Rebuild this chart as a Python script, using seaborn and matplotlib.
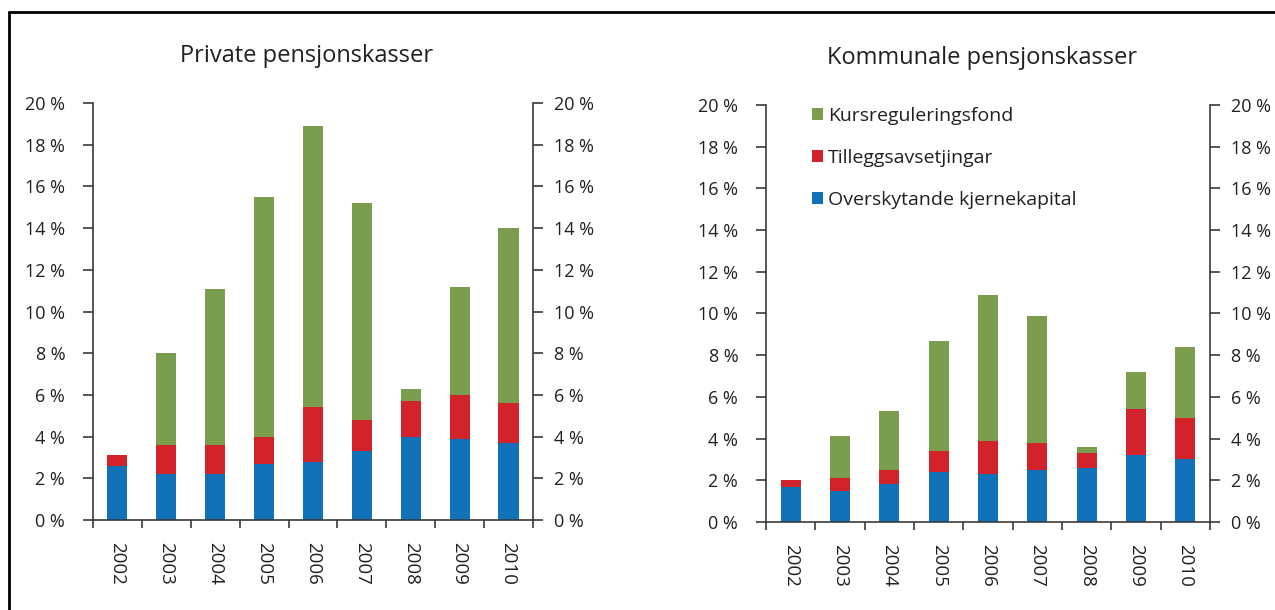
import numpy as np
import pandas as pd
import matplotlib
matplotlib.use("Agg")
import matplotlib.pyplot as plt
from matplotlib.lines import Line2D
from matplotlib.patches import Patch
import seaborn as sns

years = ['2002', '2003', '2004', '2005', '2006', '2007', '2008', '2009', '2010']

# Private pensjonskasser (prosent)
priv_kjerne = [2.6, 2.2, 2.2, 2.7, 2.8, 3.3, 4.0, 3.9, 3.7]
priv_tillegg = [0.5, 1.4, 1.4, 1.3, 2.6, 1.5, 1.7, 2.1, 1.9]
priv_kursreg = [0.0, 4.4, 7.5, 11.5, 13.5, 10.4, 0.6, 5.2, 8.4]

# Kommunale pensjonskasser (prosent)
komm_kjerne = [1.7, 1.5, 1.8, 2.4, 2.3, 2.5, 2.6, 3.2, 3.0]
komm_tillegg = [0.3, 0.6, 0.7, 1.0, 1.6, 1.3, 0.7, 2.2, 2.0]
komm_kursreg = [0.0, 2.0, 2.8, 5.3, 7.0, 6.1, 0.3, 1.8, 3.4]

series_names = ['Kursreguleringsfond', 'Tilleggsavsetjingar', 'Overskytande kjernekapital']
yticks = [0, 2, 4, 6, 8, 10, 12, 14, 16, 18, 20]
ytick_labels = [f'{v} %' for v in yticks]

blue = '#1172ba'
red = '#d2232a'
green = '#7a9e4e'
txt = '#231f20'
spine_col = '#3a3a3a'

sns.set_style('ticks')
plt.rcParams['font.family'] = ['Open Sans', 'DejaVu Sans']

fig = plt.figure(figsize=(12.75, 6.1), dpi=100)
ax1 = fig.add_axes([0.0729, 0.1475, 0.3451, 0.6836])
ax2 = fig.add_axes([0.6008, 0.1443, 0.3482, 0.6836])


def draw(ax, kjerne, tillegg, kursreg):
    df = pd.DataFrame({'aar': years, 'kjerne': kjerne, 'tillegg': tillegg, 'kursreg': kursreg})
    df['lag2'] = df['kjerne'] + df['tillegg']
    df['lag3'] = df['lag2'] + df['kursreg']
    for col, c in [('lag3', green), ('lag2', red), ('kjerne', blue)]:
        sns.barplot(data=df, x='aar', y=col, color=c, saturation=1, width=0.41,
                    errorbar=None, ax=ax, linewidth=0)
    ax.set_xlim(-0.5, 8.5)
    ax.set_ylim(0, 20)
    ax.set_xlabel('')
    ax.set_ylabel('')
    ax.set_xticks(range(len(years)), years, rotation=-90, fontsize=13.5, color=txt)
    ax.set_xticks(np.arange(-0.5, len(years), 1), minor=True)
    ax.tick_params(axis='x', which='major', length=0, pad=16)
    ax.tick_params(axis='x', which='minor', length=6, width=1.2, color=spine_col, direction='out')
    ax.set_yticks(yticks, ytick_labels, fontsize=13, color=txt)
    ax.tick_params(axis='y', left=True, right=False, labelleft=True, labelright=False,
                   length=7, width=1.2, color=spine_col, direction='out', pad=13)
    for s in ['left', 'right', 'bottom']:
        ax.spines[s].set_visible(True)
        ax.spines[s].set_color(spine_col)
        ax.spines[s].set_linewidth(1.2)
    ax.spines['top'].set_visible(False)

    # høgre akse med same skala
    axr = ax.twinx()
    axr.set_ylim(0, 20)
    axr.set_yticks(yticks, ytick_labels, fontsize=13, color=txt)
    axr.tick_params(axis='y', right=True, labelright=True, length=7, width=1.2,
                    color=spine_col, direction='out', pad=8)
    for s in axr.spines.values():
        s.set_visible(False)
    axr.grid(False)


draw(ax1, priv_kjerne, priv_tillegg, priv_kursreg)
draw(ax2, komm_kjerne, komm_tillegg, komm_kursreg)

fig.text(307 / 1275, 1 - 56 / 610, 'Private pensjonskasser', ha='center', va='center',
         fontsize=17, color=txt)
fig.text(982 / 1275, 1 - 58 / 610, 'Kommunale pensjonskasser', ha='center', va='center',
         fontsize=17, color=txt)

handles = [Patch(facecolor=c, edgecolor='none') for c in [green, red, blue]]
ax2.legend(handles, series_names, loc='upper left', bbox_to_anchor=(0.103, 0.995),
           frameon=False, fontsize=14, handlelength=0.58, handleheight=0.58,
           handletextpad=0.25, labelspacing=1.24, borderpad=0, borderaxespad=0,
           labelcolor=txt)

# ramme rundt figuren (topp og venstre)
fig.add_artist(Line2D([9 / 1275, 1], [1 - 12 / 610, 1 - 12 / 610], color='black', lw=2,
                      transform=fig.transFigure))
fig.add_artist(Line2D([9 / 1275, 9 / 1275], [0, 1 - 12 / 610], color='black', lw=2,
                      transform=fig.transFigure))

fig.savefig('out.png', dpi=100)
